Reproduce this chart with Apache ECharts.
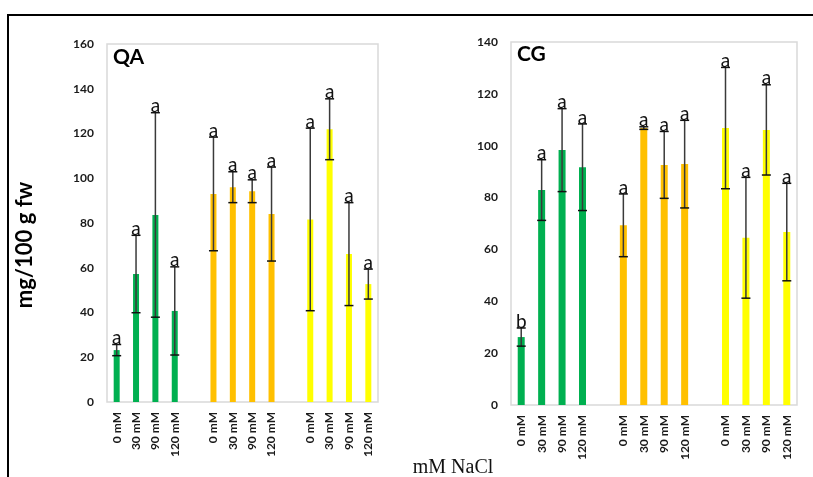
<!DOCTYPE html>
<html>
<head>
<meta charset="utf-8">
<script src="https://cdn.jsdelivr.net/npm/echarts@6/dist/echarts.min.js"></script>
<style>
  html, body { margin: 0; padding: 0; background: #fff; }
  #chart { width: 813px; height: 477px; }
</style>
</head>
<body>
<div id="chart"></div>
<script>
// Treatment slots: three salt series of four NaCl levels, separated by an empty slot
const categories = ['0 mM', '30 mM', '90 mM', '120 mM', '',
                    '0 mM', '30 mM', '90 mM', '120 mM', '',
                    '0 mM', '30 mM', '90 mM', '120 mM'];
const groupColors = ['#00B050', '#FFC000', '#FFFF00'];

// QA content (mg/100 g fw), mean and error
const qaValues = [23.2, 57.2, 83.6, 40.7, null, 93.0, 96.0, 94.2, 84.0, null, 81.6, 121.9, 66.1, 52.7];
const qaErrors = [2.5, 17.3, 45.7, 19.7, null, 25.4, 6.9, 5.1, 21.0, null, 40.8, 13.6, 23.0, 6.7];
const qaLetters = ['a', 'a', 'a', 'a', '', 'a', 'a', 'a', 'a', '', 'a', 'a', 'a', 'a'];

// CG content (mg/100 g fw), mean and error
const cgValues = [26.2, 82.9, 98.3, 91.7, null, 69.3, 106.8, 92.6, 92.9, null, 106.8, 64.5, 106.1, 66.7];
const cgErrors = [3.5, 11.7, 16.0, 16.7, null, 12.1, 0.5, 12.9, 16.9, null, 23.4, 23.3, 17.4, 18.8];
const cgLetters = ['b', 'a', 'a', 'a', '', 'a', 'a', 'a', 'a', '', 'a', 'a', 'a', 'a'];

const qaTicks = { min: 0, max: 160, interval: 20 };
const cgTicks = { min: 0, max: 140, interval: 20 };

const FONT = 'Lato, "Open Sans", sans-serif';

function slotColor(i) {
  return groupColors[Math.floor(i / 5)];
}

function barData(values) {
  return values.map((v, i) => v == null ? '-' : { value: v, itemStyle: { color: slotColor(i) } });
}

function errData(values, errors) {
  const out = [];
  values.forEach((v, i) => { if (v != null) out.push([i, v, errors[i]]); });
  return out;
}

function errorRenderer(letters) {
  return function (params, api) {
    const idx = api.value(0);
    const mean = api.value(1);
    const err = api.value(2);
    const hi = api.coord([idx, mean + err]);
    const lo = api.coord([idx, mean - err]);
    const x = hi[0];
    const cap = 4.5;
    return {
      type: 'group',
      children: [
        { type: 'line', shape: { x1: x, y1: hi[1], x2: x, y2: lo[1] },
          style: { stroke: '#3a3a3a', lineWidth: 1.5 } },
        { type: 'line', shape: { x1: x - cap, y1: hi[1], x2: x + cap, y2: hi[1] },
          style: { stroke: '#111', lineWidth: 1.5 } },
        { type: 'line', shape: { x1: x - cap, y1: lo[1], x2: x + cap, y2: lo[1] },
          style: { stroke: '#111', lineWidth: 1.5 } },
        { type: 'text', x: x, y: hi[1] + 3,
          style: { text: letters[idx], fontSize: 19, fontFamily: FONT, fill: '#111',
                   align: 'center', verticalAlign: 'bottom' } }
      ]
    };
  };
}

function xAxis(gridIndex) {
  return {
    type: 'category', gridIndex: gridIndex, data: categories,
    axisLine: { show: false }, axisTick: { show: false },
    axisLabel: { interval: 0, rotate: 90, margin: 10, fontSize: 12, fontWeight: 'bold',
                 fontFamily: FONT, color: '#1a1a1a' }
  };
}

function yAxis(gridIndex, ticks) {
  return {
    type: 'value', gridIndex: gridIndex, min: ticks.min, max: ticks.max, interval: ticks.interval,
    splitLine: { show: false }, axisLine: { show: false }, axisTick: { show: false },
    axisLabel: { margin: 13, fontSize: 12, fontWeight: 'bold', fontFamily: FONT, color: '#1a1a1a' }
  };
}

const chart = echarts.init(document.getElementById('chart'), null, { renderer: 'canvas' });
chart.setOption({
  backgroundColor: '#fff',
  animation: false,
  grid: [
    { left: 107, top: 44, width: 271, height: 358, show: true, borderColor: '#d9d9d9', borderWidth: 1.5, backgroundColor: 'transparent' },
    { left: 511, top: 42, width: 286, height: 363, show: true, borderColor: '#d9d9d9', borderWidth: 1.5, backgroundColor: 'transparent' }
  ],
  xAxis: [xAxis(0), xAxis(1)],
  yAxis: [yAxis(0, qaTicks), yAxis(1, cgTicks)],
  series: [
    { type: 'bar', xAxisIndex: 0, yAxisIndex: 0, barWidth: 6, data: barData(qaValues) },
    { type: 'custom', xAxisIndex: 0, yAxisIndex: 0, z: 5, data: errData(qaValues, qaErrors),
      encode: { x: 0, y: 1 }, renderItem: errorRenderer(qaLetters) },
    { type: 'bar', xAxisIndex: 1, yAxisIndex: 1, barWidth: 7, data: barData(cgValues) },
    { type: 'custom', xAxisIndex: 1, yAxisIndex: 1, z: 5, data: errData(cgValues, cgErrors),
      encode: { x: 0, y: 1 }, renderItem: errorRenderer(cgLetters) }
  ],
  graphic: [
    { type: 'rect', shape: { x: 8, y: 15, width: 820, height: 480 },
      style: { fill: 'none', stroke: '#000', lineWidth: 2 } },
    { type: 'text', x: 113, y: 57,
      style: { text: 'QA', fontSize: 21, fontWeight: 'bold', fontFamily: FONT, fill: '#000', verticalAlign: 'middle' } },
    { type: 'text', x: 517, y: 54,
      style: { text: 'CG', fontSize: 21, fontWeight: 'bold', fontFamily: FONT, fill: '#000', verticalAlign: 'middle' } },
    { type: 'text', x: 25, y: 245, rotation: Math.PI / 2,
      style: { text: 'mg/100 g fw', fontSize: 22, fontWeight: 'bold', fontFamily: FONT, fill: '#000',
               align: 'center', verticalAlign: 'middle' } },
    { type: 'text', x: 453, y: 468,
      style: { text: 'mM NaCl', fontSize: 20, fontFamily: '"Liberation Serif", "DejaVu Serif", serif', fill: '#111',
               align: 'center', verticalAlign: 'middle' } }
  ]
});
</script>
</body>
</html>
